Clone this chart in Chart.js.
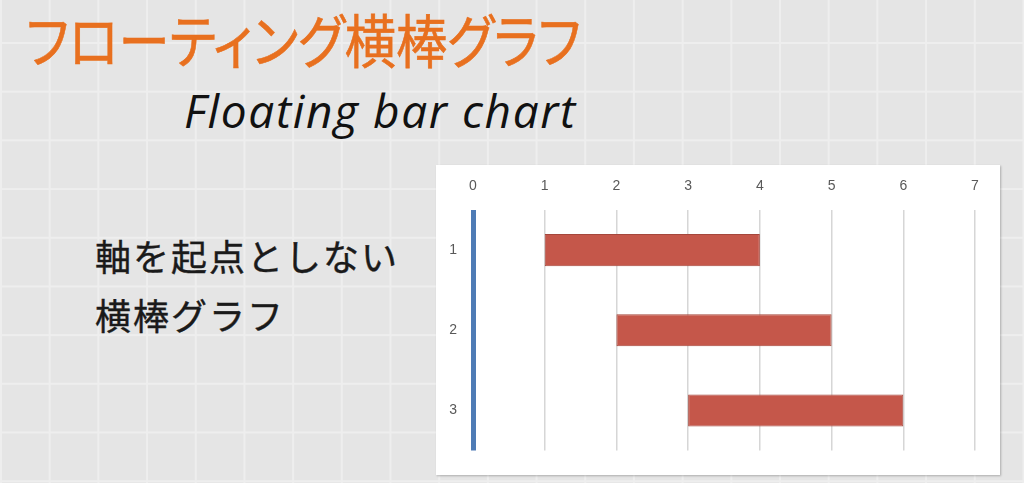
<!DOCTYPE html>
<html>
<head>
<meta charset="utf-8">
<script src="https://cdn.jsdelivr.net/npm/chart.js@4.4.1/dist/chart.umd.min.js"></script>
<style>
html,body{margin:0;padding:0;}
body{
  width:1024px;height:483px;overflow:hidden;position:relative;
  background-color:#e5e5e5;
  background-image:
    linear-gradient(to right, #eeeeee 0px, #eeeeee 1.5px, transparent 1.5px),
    linear-gradient(to bottom, #eeeeee 0px, #eeeeee 1.5px, transparent 1.5px);
  background-size:48.7px 48.7px;
  background-position:0px 0px, 0px 42px;
  font-family:"Noto Sans CJK JP","Noto Sans",sans-serif;
}
#title{
  position:absolute;left:26px;top:-4px;
  font-size:58px;color:#e8701f;white-space:nowrap;
  font-feature-settings:"palt";
  transform:scaleX(0.885);transform-origin:0 0;
  -webkit-text-stroke:0.6px #e8701f;
}
#sub{
  position:absolute;left:184px;top:79px;
  font-family:"Open Sans",sans-serif;font-style:italic;
  font-size:46px;color:#111;white-space:nowrap;letter-spacing:1.6px;
}
.lt{
  position:absolute;left:95px;font-size:36px;color:#1a1a1a;white-space:nowrap;letter-spacing:2px;
  -webkit-text-stroke:0.4px #1a1a1a;
}
#box{
  position:absolute;left:436px;top:165px;width:564px;height:310px;
  background:#fff;box-shadow:1px 1px 2px rgba(0,0,0,0.25);
}
#box canvas{position:absolute;left:0;top:0;}
</style>
</head>
<body>
<div id="title">フローティング横棒グラフ</div>
<div id="sub">Floating bar chart</div>
<div class="lt" style="top:229px">軸を起点としない</div>
<div class="lt" style="top:288px">横棒グラフ</div>
<div id="box"><canvas id="c" width="564" height="310"></canvas></div>
<script>
const categories = ['1','2','3'];
const barStarts = [1, 2, 3];
const barEnds = [4, 5, 6];
const xTicks = [0,1,2,3,4,5,6,7];

const ranges = categories.map((c,i)=>[barStarts[i], barEnds[i]]);

new Chart(document.getElementById('c'), {
  type:'bar',
  data:{
    labels:categories,
    datasets:[{
      data:ranges,
      backgroundColor:'#c5574a',
      borderColor:'#a5473c',
      borderWidth:1,
      borderSkipped:false,
      categoryPercentage:1,
      barPercentage:0.4
    }]
  },
  options:{
    indexAxis:'y',
    responsive:false,
    animation:false,
    devicePixelRatio:1,
    layout:{padding:{left:0,top:0,right:25,bottom:20}},
    plugins:{legend:{display:false},tooltip:{enabled:false}},
    scales:{
      x:{
        position:'top',
        min:xTicks[0], max:xTicks[xTicks.length-1],
        afterFit:(s)=>{s.height=45;},
        afterBuildTicks:(s)=>{s.ticks=xTicks.map(v=>({value:v}));},
        ticks:{stepSize:1,color:'#595959',font:{family:'"Liberation Sans", sans-serif',size:14},padding:15,maxRotation:0},
        grid:{
          drawTicks:false,
          color:(ctx)=>ctx.tick && ctx.tick.value===0 ? '#4e7bb5' : '#d6d6d6',
          lineWidth:(ctx)=>ctx.tick && ctx.tick.value===0 ? 5 : 1.5
        },
        border:{display:false}
      },
      y:{
        afterFit:(s)=>{s.width=37;},
        ticks:{color:'#595959',font:{family:'"Liberation Sans", sans-serif',size:14},padding:16},
        grid:{display:false,drawTicks:false},
        border:{display:false}
      }
    }
  }
});
</script>
</body>
</html>
